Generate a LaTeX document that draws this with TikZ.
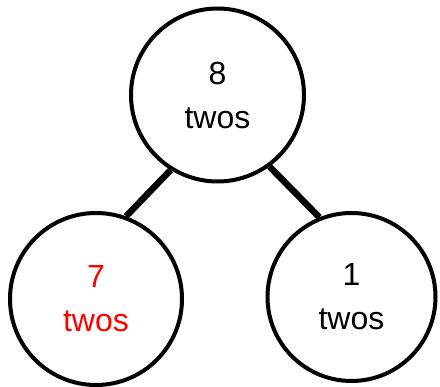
\documentclass[tikz,border=0pt]{standalone}
\usepackage{fontspec}
\setmainfont{Liberation Sans}
\begin{document}
\begin{tikzpicture}[x=1pt,y=-1pt,
  numcircle/.style={circle,draw=black,line width=4pt,align=center,inner sep=0pt,
    font=\fontsize{32}{44}\selectfont},
  link/.style={line width=6.5pt}]
\useasboundingbox (0,0) rectangle (440,387);
\node[numcircle,minimum size=173pt] (top) at (217.5,95) {8\\twos};
\node[numcircle,minimum size=172pt,text=red] (left) at (96,299) {7\\twos};
\node[numcircle,minimum size=168pt] (right) at (351.5,297) {1\\twos};
\draw[link] (top.238) -- (left.70);
\draw[link] (top.-54) -- (right.112);
\end{tikzpicture}
\end{document}
